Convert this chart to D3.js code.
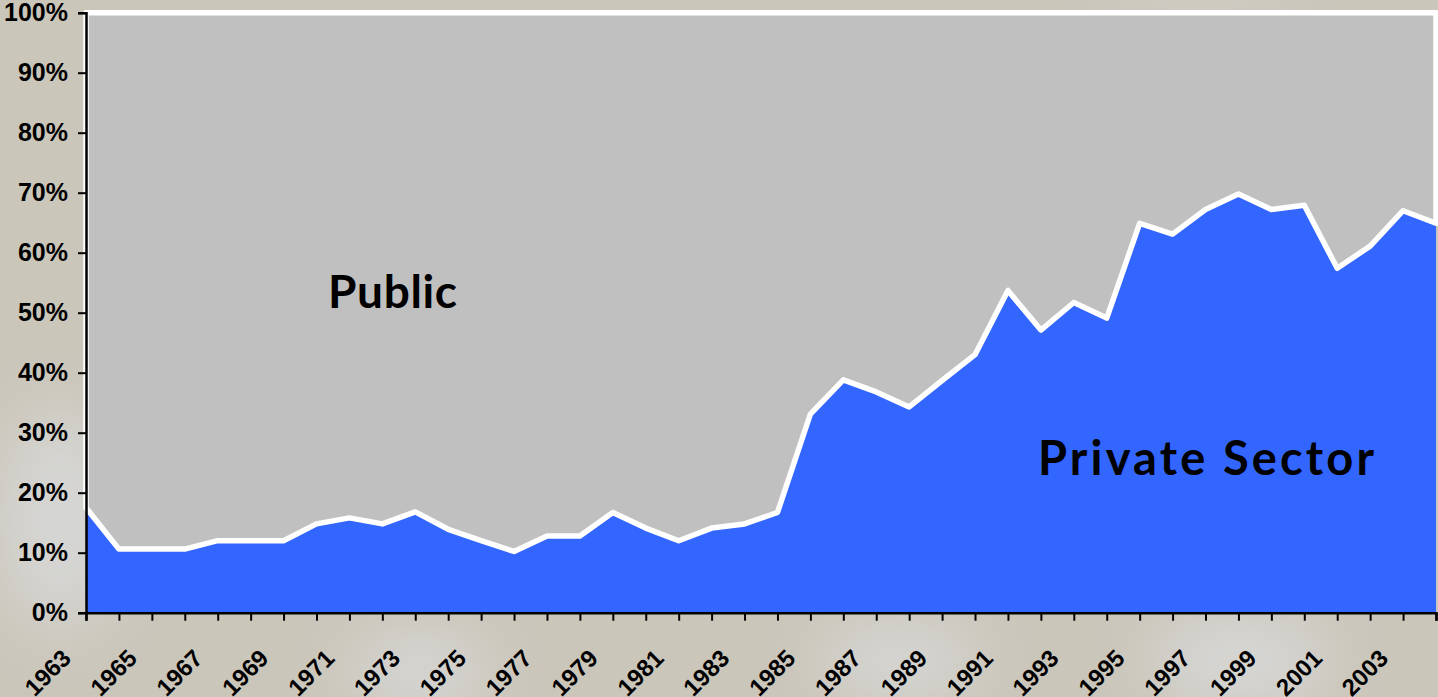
<!DOCTYPE html>
<html>
<head>
<meta charset="utf-8">
<script src="https://cdn.jsdelivr.net/npm/d3@7"></script>
<style>
  html, body { margin: 0; padding: 0; background: #cbc6ba; overflow: hidden; }
  .tick text { font-family: Arial, "Liberation Sans", sans-serif; font-weight: bold; fill: #000; }
  .label { font-family: "Comic Sans MS", Lato, sans-serif; font-weight: bold; fill: #000; }
</style>
</head>
<body>
<div class="container"></div>
<script>
// Share of the total, per year (percent).
const years = [
  1963, 1964, 1965, 1966, 1967, 1968, 1969, 1970, 1971, 1972, 1973, 1974, 1975, 1976,
  1977, 1978, 1979, 1980, 1981, 1982, 1983, 1984, 1985, 1986, 1987, 1988, 1989, 1990,
  1991, 1992, 1993, 1994, 1995, 1996, 1997, 1998, 1999, 2000, 2001, 2002, 2003, 2004
];
const privateShare = [
  17.5, 10.6, 10.6, 10.6, 12.0, 12.0, 12.0, 14.8, 15.8, 14.8, 16.8, 13.9, 12.0, 10.2,
  12.8, 12.8, 16.7, 14.1, 12.0, 14.1, 14.8, 16.7, 33.1, 38.8, 36.8, 34.3, 38.7, 43.0,
  53.7, 47.1, 51.7, 49.1, 64.9, 63.1, 67.2, 69.8, 67.2, 67.9, 57.4, 61.1, 67.0, 64.9
];
const yearLabels = [
  1963, 1965, 1967, 1969, 1971, 1973, 1975, 1977, 1979, 1981, 1983,
  1985, 1987, 1989, 1991, 1993, 1995, 1997, 1999, 2001, 2003
];
const percentTicks = [0, 10, 20, 30, 40, 50, 60, 70, 80, 90, 100];

const width = 1438;
const height = 697;
const margin = { top: 12.7, right: 2, bottom: 84.3, left: 86 };

// Stack private + public = 100%.
const table = years.map((year, i) => ({
  year,
  private: privateShare[i],
  public: 100 - privateShare[i]
}));
const series = d3.stack().keys(['private', 'public'])(table);

const x = d3
  .scalePoint()
  .domain(years)
  .range([margin.left, width - margin.right]);

const y = d3
  .scaleLinear()
  .domain([0, 100])
  .range([height - margin.bottom, margin.top]);

const svg = d3
  .select('.container')
  .append('svg')
  .attr('width', width)
  .attr('height', height);

// Soft background blotches.
const defs = svg.append('defs');
defs
  .append('filter')
  .attr('id', 'blur')
  .append('feGaussianBlur')
  .attr('stdDeviation', 30);

svg.append('rect').attr('width', width).attr('height', height).attr('fill', '#cbc6ba');
const blobs = svg.append('g').attr('filter', 'url(#blur)').attr('fill', '#d6d6d4');
blobs.append('ellipse').attr('cx', 60).attr('cy', 520).attr('rx', 60).attr('ry', 110);
blobs.append('ellipse').attr('cx', 420).attr('cy', 670).attr('rx', 70).attr('ry', 40);
blobs.append('ellipse').attr('cx', 900).attr('cy', 660).attr('rx', 80).attr('ry', 40);
blobs.append('ellipse').attr('cx', 1240).attr('cy', 660).attr('rx', 90).attr('ry', 50);
blobs.append('ellipse').attr('cx', 1200).attr('cy', 8).attr('rx', 90).attr('ry', 10);

// Areas.
const area = d3
  .area()
  .x(d => x(d.data.year))
  .y0(d => y(d[0]))
  .y1(d => y(d[1]));

svg
  .append('path')
  .datum(series[0])
  .attr('fill', '#3366ff')
  .attr('d', area);

svg
  .append('path')
  .datum(series[1])
  .attr('fill', '#c0c0c0')
  .attr('stroke', '#fff')
  .attr('stroke-width', 5.5)
  .attr('stroke-linejoin', 'round')
  .attr('d', area);

// Axes.
const yAxis = svg
  .append('g')
  .attr('transform', `translate(${margin.left},0)`)
  .call(
    d3
      .axisLeft(y)
      .tickValues(percentTicks)
      .tickFormat(d => d + '%')
      .tickSize(8)
      .tickPadding(10)
  );
yAxis.selectAll('text').style('font-size', '25px');

const xAxis = svg
  .append('g')
  .attr('transform', `translate(0,${y(0)})`)
  .call(d3.axisBottom(x).tickSize(8).tickFormat(d => (yearLabels.includes(d) ? d : '')));
xAxis
  .selectAll('text')
  .style('font-size', '24px')
  .attr('text-anchor', 'end')
  .attr('x', -14)
  .attr('y', 47)
  .attr('dy', 0)
  .attr('transform', 'rotate(-45, -14, 47)');

svg.selectAll('.domain').attr('stroke', '#000').attr('stroke-width', 2.5);
svg.selectAll('.tick line').attr('stroke', '#000').attr('stroke-width', 2);

// Series labels.
svg
  .append('text')
  .attr('class', 'label')
  .attr('x', 328)
  .attr('y', 308)
  .attr('textLength', 129)
  .style('font-size', '46px')
  .text('Public');

svg
  .append('text')
  .attr('class', 'label')
  .attr('x', 1038)
  .attr('y', 475)
  .attr('textLength', 336)
  .style('font-size', '47px')
  .text('Private Sector');
</script>
</body>
</html>
